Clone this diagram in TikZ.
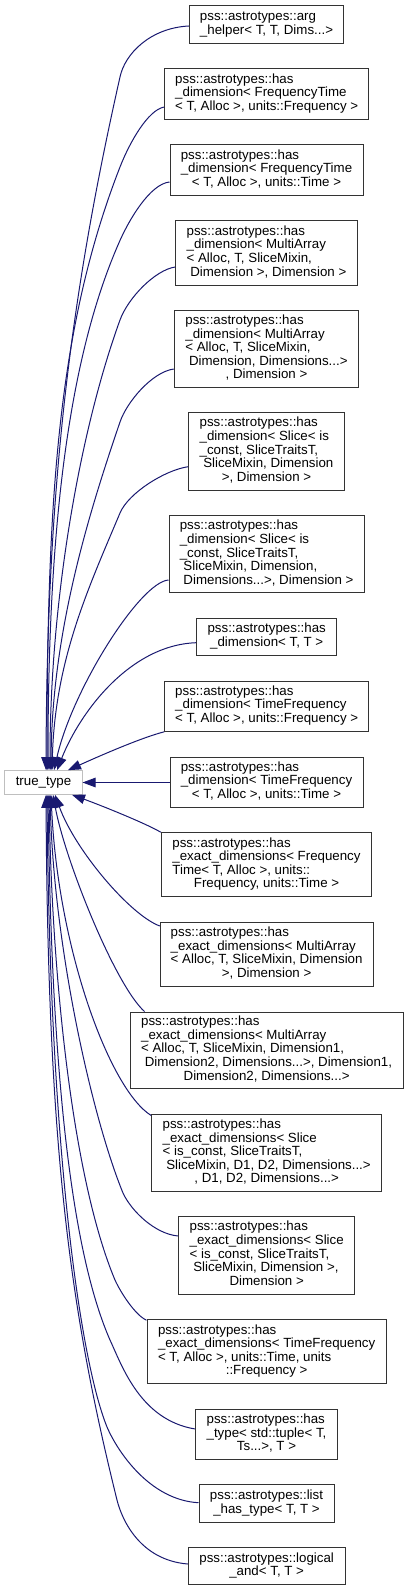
\documentclass[tikz,border=0pt]{standalone}
\usepackage{fontspec}
\setmainfont{Liberation Sans}
\usetikzlibrary{arrows.meta,calc}
\definecolor{edgec}{RGB}{25,25,112}
\definecolor{extc}{RGB}{191,191,191}
\newcommand{\dxl}[2]{\begin{tabular}{@{}l@{}}#1\\\multicolumn{1}{@{}c@{}}{#2}\end{tabular}}
\begin{document}
\begin{tikzpicture}[x=1bp,y=-1bp,
  cls/.style={draw=black!80, line width=1bp, fill=white, inner sep=0pt,
              font=\fontsize{13.3bp}{13.3bp}\selectfont},
  ext/.style={cls, draw=extc},
  inh/.style={draw=edgec, line width=1bp, -{Triangle[length=13bp,width=9.5bp]}}]
\fill[white] (0,0) rectangle (409,1591);
\useasboundingbox (0,0) rectangle (409,1591);

\node[ext, minimum width=77bp, minimum height=23.6bp] (tt) at (43.5,782.5) {true\_type};

\node[cls, minimum width=154.4bp, minimum height=37.3bp] (b1) at (266.5,24.65)
  {\dxl{pss::astrotypes::arg}{\_helper< T, T, Dims...>}};
\node[cls, minimum width=204bp, minimum height=50.3bp] (b2) at (266.7,94.15)
  {\dxl{pss::astrotypes::has\\\_dimension< FrequencyTime}{< T, Alloc >, units::Frequency >}};
\node[cls, minimum width=193bp, minimum height=50.3bp] (b3) at (266.5,170.15)
  {\dxl{pss::astrotypes::has\\\_dimension< FrequencyTime}{< T, Alloc >, units::Time >}};
\node[cls, minimum width=181.6bp, minimum height=64.3bp] (b4) at (266.5,252.85)
  {\dxl{pss::astrotypes::has\\\_dimension< MultiArray\\< Alloc, T, SliceMixin,}{\ Dimension >, Dimension >}};
\node[cls, minimum width=184.4bp, minimum height=77.7bp] (b5) at (266.5,348.85)
  {\dxl{pss::astrotypes::has\\\_dimension< MultiArray\\< Alloc, T, SliceMixin,\\\ Dimension, Dimensions...>}{, Dimension >}};
\node[cls, minimum width=155.6bp, minimum height=77.3bp] (b6) at (266.5,451.35)
  {\dxl{pss::astrotypes::has\\\_dimension< Slice< is\\\_const, SliceTraitsT,\\\ SliceMixin, Dimension}{>, Dimension >}};
\node[cls, minimum width=195.3bp, minimum height=77bp] (b7) at (266.65,554.2)
  {\dxl{pss::astrotypes::has\\\_dimension< Slice< is\\\_const, SliceTraitsT,\\\ SliceMixin, Dimension,}{\ Dimensions...>, Dimension >}};
\node[cls, minimum width=140bp, minimum height=36.7bp] (b8) at (266.7,636.65)
  {\dxl{pss::astrotypes::has}{\_dimension< T, T >}};
\node[cls, minimum width=204bp, minimum height=50.3bp] (b9) at (266.7,706.15)
  {\dxl{pss::astrotypes::has\\\_dimension< TimeFrequency}{< T, Alloc >, units::Frequency >}};
\node[cls, minimum width=193bp, minimum height=50.3bp] (b10) at (266.5,782.15)
  {\dxl{pss::astrotypes::has\\\_dimension< TimeFrequency}{< T, Alloc >, units::Time >}};
\node[cls, minimum width=210.4bp, minimum height=64bp] (b11) at (266.5,864.7)
  {\dxl{pss::astrotypes::has\\\_exact\_dimensions< Frequency\\Time< T, Alloc >, units::}{Frequency, units::Time >}};
\node[cls, minimum width=212.7bp, minimum height=63.3bp] (b12) at (266.65,954.35)
  {\dxl{pss::astrotypes::has\\\_exact\_dimensions< MultiArray\\< Alloc, T, SliceMixin, Dimension}{>, Dimension >}};
\node[cls, minimum width=273.3bp, minimum height=76.3bp] (b13) at (266.65,1050.15)
  {\dxl{pss::astrotypes::has\\\_exact\_dimensions< MultiArray\\< Alloc, T, SliceMixin, Dimension1,\\\ Dimension2, Dimensions...>, Dimension1,}{Dimension2, Dimensions...>}};
\node[cls, minimum width=230bp, minimum height=77bp] (b14) at (266.7,1152.8)
  {\dxl{pss::astrotypes::has\\\_exact\_dimensions< Slice\\< is\_const, SliceTraitsT,\\\ SliceMixin, D1, D2, Dimensions...>}{, D1, D2, Dimensions...>}};
\node[cls, minimum width=176bp, minimum height=77.3bp] (b15) at (266.7,1255.35)
  {\dxl{pss::astrotypes::has\\\_exact\_dimensions< Slice\\< is\_const, SliceTraitsT,\\\ SliceMixin, Dimension >,}{Dimension >}};
\node[cls, minimum width=239.3bp, minimum height=64bp] (b16) at (266.65,1351.7)
  {\dxl{pss::astrotypes::has\\\_exact\_dimensions< TimeFrequency\\< T, Alloc >, units::Time, units}{::Frequency >}};
\node[cls, minimum width=141.6bp, minimum height=50.3bp] (b17) at (266.5,1434.15)
  {\dxl{pss::astrotypes::has\\\_type< std::tuple< T,}{Ts...>, T >}};
\node[cls, minimum width=135bp, minimum height=37.3bp] (b18) at (266.5,1503.35)
  {\dxl{pss::astrotypes::list}{\_has\_type< T, T >}};
\node[cls, minimum width=156.7bp, minimum height=37.4bp] (b19) at (266.65,1566)
  {\dxl{pss::astrotypes::logical}{\_and< T, T >}};

% edges above true_type
\draw[inh] ($(b1.west)+(0,1.35)$) .. controls (150,28) and (124.8,54) .. (120,77)
  .. controls (72,290) and (47,480) .. ($(tt.north)+(2.5,0)$);
\draw[inh] ($(b2.west)+(0,12.85)$) .. controls (148,110) and (129.8,142) .. (120,167)
  .. controls (57.6,327) and (47,500) .. ($(tt.north)+(3.5,0)$);
\draw[inh] ($(b3.west)+(0,11.85)$) .. controls (150,184) and (128.5,220) .. (118,245)
  .. controls (66,365) and (48,540) .. ($(tt.north)+(4.5,0)$);
\draw[inh] ($(b4.west)+(0,14.15)$) .. controls (155,270) and (128,298) .. (120,320)
  .. controls (80,430) and (50,600) .. ($(tt.north)+(6.5,0)$);
\draw[inh] ($(b5.west)+(0,20.15)$) .. controls (152,372) and (126.8,402) .. (120,422)
  .. controls (90,510) and (52,630) .. ($(tt.north)+(7.5,0)$);
\draw[inh] ($(b6.west)+(0,15.35)$) .. controls (165,470) and (128.4,493) .. (120,513)
  .. controls (88,589) and (55,660) .. ($(tt.north)+(8.5,0)$);
\draw[inh] ($(b7.west)+(0,25.8)$) .. controls (140,582) and (72,690) .. ($(tt.north)+(10.5,0)$);
\draw[inh] ($(b8.west)+(0,6.05)$) .. controls (130,645) and (80,712) .. ($(tt.north)+(13.5,0)$);
\draw[inh] (b9.south west) .. controls (140,738) and (95,758) .. ($(tt.north)+(24.5,0)$);
% straight edge
\draw[inh] (b10.west |- tt.east) -- (tt.east);
% edges below true_type
\draw[inh] (b11.north west) .. controls (145,823) and (100,805) .. ($(tt.south)+(28.5,0)$);
\draw[inh] ($(b12.west)+(0,-28.35)$) .. controls (130,915) and (75,850) .. ($(tt.south)+(11.5,0)$);
\draw[inh] ($(b13.north west)+(15,0)$) .. controls (115,985) and (65,860) .. ($(tt.south)+(9.5,0)$);
\draw[inh] ($(b14.north west)+(0,1.7)$) .. controls (110,1090) and (58,950) .. ($(tt.south)+(7.5,0)$);
\draw[inh] ($(b15.west)+(0,-19.35)$) .. controls (155,1234) and (131.3,1211) .. (123,1193)
  .. controls (93,1120) and (54,950) .. ($(tt.south)+(6.5,0)$);
\draw[inh] ($(b16.north west)+(0,1)$) .. controls (135,1315) and (120.4,1292) .. (115,1280)
  .. controls (73,1180) and (52,980) .. ($(tt.south)+(5.5,0)$);
\draw[inh] ($(b17.west)+(0,-5.15)$) .. controls (140,1420) and (121.75,1365) .. (110,1340)
  .. controls (75,1260) and (52,1100) .. ($(tt.south)+(4.5,0)$);
\draw[inh] ($(b18.west)+(0,-0.65)$) .. controls (150,1500) and (117.75,1452) .. (107,1427)
  .. controls (80,1360) and (50,1150) .. ($(tt.south)+(3.5,0)$);
\draw[inh] ($(b19.west)+(0,-2)$) .. controls (140,1560) and (122,1520) .. (117,1500)
  .. controls (70,1310) and (48,1150) .. ($(tt.south)+(2.5,0)$);
\end{tikzpicture}
\end{document}
